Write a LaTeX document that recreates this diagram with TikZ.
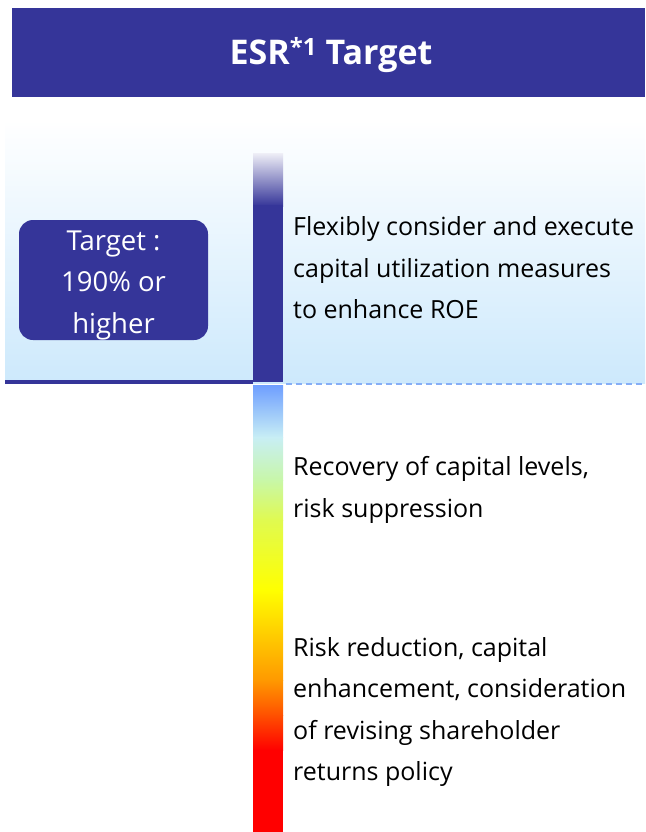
\documentclass[tikz,border=0pt]{standalone}
\usepackage{fontspec}
\setmainfont{Open Sans}
\definecolor{esrblue}{HTML}{353599}
\definecolor{paleblue}{HTML}{CDE9FC}
\definecolor{dashblue}{HTML}{86AEF6}
\tikzset{
  bodytext/.style={anchor=west, align=left, inner sep=0pt, font=\fontsize{25}{41.5}\selectfont}
}

\begin{document}
\begin{tikzpicture}[x=1pt,y=-1pt]
  \useasboundingbox (0,0) rectangle (645,832);
  \fill[esrblue] (12,8) rectangle (645,97);
  \node[text=white, font=\bfseries\fontsize{34}{40}\selectfont] (title) at (331,55) {ESR\textsuperscript{*1} Target};

  \shade[top color=white, bottom color=paleblue] (5,120) rectangle (645,383);
  \fill[esrblue] (5,380) rectangle (253,384);
  \draw[dashblue, line width=2pt, dash pattern=on 6pt off 4pt] (286,383.5) -- (645,383.5);

  \shade[top color=esrblue!8, bottom color=esrblue] (253,153) rectangle (283,206);
  \fill[esrblue] (253,205) rectangle (283,382);

  \shade[top color={rgb,255:red,110;green,158;blue,255}, bottom color={rgb,255:red,200;green,238;blue,245}] (253,385) rectangle (283,437.5);
  \shade[top color={rgb,255:red,200;green,238;blue,245}, bottom color={rgb,255:red,200;green,247;blue,168}] (253,437) rectangle (283,480.5);
  \shade[top color={rgb,255:red,200;green,247;blue,168}, bottom color={rgb,255:red,224;green,250;blue,80}] (253,480) rectangle (283,520.5);
  \shade[top color={rgb,255:red,224;green,250;blue,80}, bottom color={rgb,255:red,255;green,255;blue,0}] (253,520) rectangle (283,590.5);
  \shade[top color={rgb,255:red,255;green,255;blue,0}, bottom color={rgb,255:red,255;green,153;blue,0}] (253,590) rectangle (283,680.5);
  \shade[top color={rgb,255:red,255;green,153;blue,0}, bottom color={rgb,255:red,255;green,80;blue,0}] (253,680) rectangle (283,715.5);
  \shade[top color={rgb,255:red,255;green,80;blue,0}, bottom color=red] (253,715) rectangle (283,750.5);
  \fill[red] (253,750) rectangle (283,832);

  \node[fill=esrblue, rounded corners=14pt, minimum width=189pt, minimum height=120pt] (target) at (113.5,280) {};
  \node[text=white, align=center, inner sep=0pt, font=\fontsize{27.5}{41.5}\selectfont] (targettext) at ([yshift=-5pt]target.center) {Target :\\190\% or\\higher};

  \node[bodytext] (roe) at (293,268) {Flexibly consider and execute\\capital utilization measures\\to enhance ROE};
  \node[bodytext] (recovery) at (293,490) {Recovery of capital levels,\\risk suppression};
  \node[bodytext] (risk) at (293,712) {Risk reduction, capital\\enhancement, consideration\\of revising shareholder\\returns policy};
\end{tikzpicture}
\end{document}
